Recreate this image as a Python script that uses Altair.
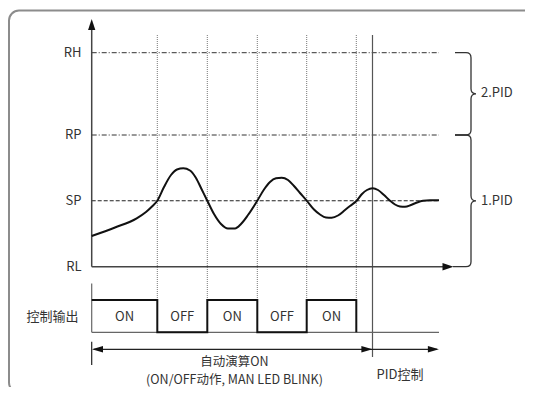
import altair as alt
import pandas as pd

FONT = "Noto Sans CJK SC"
INK = "#222222"
TXT = "#333333"

# ---- data (schematic units) ----
level_names = ["RH", "RP", "SP", "RL"]
level_y = [52.7, 135.0, 200.7, 266.7]

curve_x = [91.7, 115, 136.7, 146, 152, 157.3, 164, 171, 177, 183.3, 190, 196, 201.5, 207.3,
           214, 221, 228, 235, 241, 248, 257.3, 264, 270, 276, 281.7, 288, 294, 300, 306.7,
           314, 320, 326, 331.7, 338, 345, 350, 356.7, 362, 367, 372.7, 378, 384, 390,
           395, 400, 405, 411, 417, 423, 430, 439]
curve_y = [236, 227.5, 218.3, 212, 206.5, 200.7, 187, 175, 169.5, 168.3, 170.5, 178, 189, 200.7,
           214, 224, 228.5, 228.5, 224, 215, 200.7, 189.5, 182, 178.3, 177.7, 180, 186, 193, 200.7,
           209.5, 214.5, 217.5, 217.7, 215.5, 210, 206, 200.7, 194, 190, 188.3, 190, 195, 200.7,
           204.5, 206.5, 206.8, 205, 202.5, 200.8, 200.3, 200.3]

switch_x = [157.3, 207.3, 257.3, 306.7, 356.3]
pid_x = 372.5
out_labels = ["ON", "OFF", "ON", "OFF", "ON"]
out_high, out_low = 300.0, 332.3
x0, x_end = 91.7, 439.0
arrow_row_y = 349.3

brace_labels = ["2.PID", "1.PID"]
brace_top = [52.7, 135.0]
brace_bot = [135.0, 266.7]

# ---- scales ----
X = dict(scale=alt.Scale(domain=[8, 525], nice=False, zero=False), axis=None)
Y = dict(scale=alt.Scale(domain=[8, 387], reverse=True, nice=False, zero=False), axis=None)


def xq(f):
    return alt.X(f, type="quantitative", **X)


def yq(f):
    return alt.Y(f, type="quantitative", **Y)


def segs(rows):
    return pd.DataFrame(rows, columns=["x", "y", "x2", "y2"])


def rule(df, **kw):
    return alt.Chart(df).mark_rule(**kw).encode(
        x=xq("x"), y=yq("y"), x2="x2:Q", y2="y2:Q")


layers = []

# frame
frame = segs([[9, 10.5, 536, 392.5]])
layers.append(alt.Chart(frame).mark_rect(fillOpacity=0, stroke="#8c8c8c", strokeWidth=2,
                                         cornerRadius=10).encode(
    x=xq("x"), y=yq("y"), x2="x2:Q", y2="y2:Q"))

# RH / RP dash-dot lines
layers.append(rule(segs([[x0, level_y[0], x_end, level_y[0]],
                         [x0, level_y[1], x_end, level_y[1]]]),
                   color="#333333", strokeWidth=1, strokeDash=[5, 2, 1, 2]))
# SP dashed
layers.append(rule(segs([[x0, level_y[2], x_end, level_y[2]]]),
                   color=INK, strokeWidth=1.1, strokeDash=[4, 2]))

# dotted switching verticals
layers.append(rule(segs([[sx, 35, sx, out_high] for sx in switch_x]),
                   color="#777777", strokeWidth=1, strokeDash=[1, 1]))
# PID start solid vertical
layers.append(rule(segs([[pid_x, 35, pid_x, 357]]), color="#555555", strokeWidth=1.2))

# axes
layers.append(rule(segs([[x0, 29, x0, level_y[3]], [x0, level_y[3], 444, level_y[3]]]),
                   color="#444444", strokeWidth=1.5))

# process curve
curve = pd.DataFrame({"x": curve_x, "y": curve_y})
layers.append(alt.Chart(curve).mark_line(color="#111111", strokeWidth=2, interpolate="monotone").encode(
    x=xq("x"), y=yq("y")))

# output box base + left edge
layers.append(rule(segs([[x0, out_low, x_end, out_low], [x0, 283.6, x0, out_low]]),
                   color="#666666", strokeWidth=1.2))

# square wave
wx, wy = [x0], [out_high]
level = out_high
for sx in switch_x:
    wx += [sx, sx]
    nxt = out_low if level == out_high else out_high
    wy += [level, nxt]
    level = nxt
wx.append(pid_x - 16.2)
wy.append(level)
wave = pd.DataFrame({"x": wx, "y": wy, "i": list(range(len(wx)))})
layers.append(alt.Chart(wave).mark_line(color="#111111", strokeWidth=2).encode(
    x=xq("x"), y=yq("y"), order="i:Q"))

# arrow row
layers.append(rule(segs([[x0 + 2, arrow_row_y, x_end - 2, arrow_row_y],
                         [x0, 341.7, x0, 365]]),
                   color="#222222", strokeWidth=1.2))

# arrowheads
heads = pd.DataFrame({
    "x": [x0, 448.0, x0 + 5.8, pid_x - 5.6, x_end - 5.6],
    "y": [24.5, level_y[3], arrow_row_y, arrow_row_y, arrow_row_y],
    "shape": ["M0,-1L0.66,1L-0.66,1Z", "M1,0L-1,0.68L-1,-0.68Z", "M-1,0L1,0.6L1,-0.6Z",
              "M1,0L-1,0.6L-1,-0.6Z", "M1,0L-1,0.6L-1,-0.6Z"],
})
layers.append(alt.Chart(heads).mark_point(filled=True, opacity=1, color="#111111", size=121,
                                          strokeWidth=0).encode(
    x=xq("x"), y=yq("y"), shape=alt.Shape("shape:N", scale=None)))

# braces
brace_paths = [
    "M-0.389,-1L-0.122,-1Q0,-1 0,-0.878L0,-0.122Q0,0 0.122,0Q0,0 0,0.122L0,0.878Q0,1 -0.122,1L-0.389,1",
    "M-0.243,-1L-0.076,-1Q0,-1 0,-0.924L0,-0.076Q0,0 0.076,0Q0,0 0,0.076L0,0.924Q0,1 -0.076,1L-0.273,1",
]
for top, bot, path in zip(brace_top, brace_bot, brace_paths):
    h = (bot - top) / 2
    bdf = pd.DataFrame({"x": [471.0], "y": [(top + bot) / 2]})
    layers.append(alt.Chart(bdf).mark_point(shape=path, filled=False, opacity=1, color="#333333",
                                            strokeWidth=1.3, size=4 * h * h).encode(
        x=xq("x"), y=yq("y")))

# brace labels
bl = pd.DataFrame({"x": [481.0, 481.0], "y": [93.0, 200.7], "t": brace_labels})
layers.append(alt.Chart(bl).mark_text(align="left", baseline="middle", font=FONT, fontSize=13,
                                      color=TXT).encode(x=xq("x"), y=yq("y"), text="t:N"))

# level labels
ll = pd.DataFrame({"x": [81.5] * 4, "y": level_y, "t": level_names})
layers.append(alt.Chart(ll).mark_text(align="right", baseline="middle", font=FONT, fontSize=13,
                                      color=TXT).encode(x=xq("x"), y=yq("y"), text="t:N"))

# ON/OFF labels
edges = [x0] + switch_x
ol = pd.DataFrame({"x": [(a + b) / 2 for a, b in zip(edges[:-1], edges[1:])],
                   "y": [316.5] * 5, "t": out_labels})
layers.append(alt.Chart(ol).mark_text(align="center", baseline="middle", font=FONT, fontSize=13,
                                      color=TXT).encode(x=xq("x"), y=yq("y"), text="t:N"))

# other texts
misc_text = ["控制输出", "自动演算ON", "(ON/OFF动作, MAN LED BLINK)", "PID控制"]
misc_x = [78.5, 234.5, 234.5, 400.0]
misc_y = [317.0, 361.5, 379.5, 375.0]
misc_align = ["right", "center", "center", "center"]
misc_size = [13, 12.5, 12.5, 13]
for t, mx, my, al, fs in zip(misc_text, misc_x, misc_y, misc_align, misc_size):
    mdf = pd.DataFrame({"x": [mx], "y": [my], "t": [t]})
    layers.append(alt.Chart(mdf).mark_text(align=al, baseline="middle", font=FONT, fontSize=fs,
                                           color=TXT).encode(x=xq("x"), y=yq("y"), text="t:N"))

chart = alt.layer(*layers).properties(
    width=517, height=379, padding=0,
    autosize=alt.AutoSizeParams(type="none"),
    background="white",
).configure_view(stroke=None)

chart.save("out.html", embed_options={"renderer": "svg", "actions": False})
